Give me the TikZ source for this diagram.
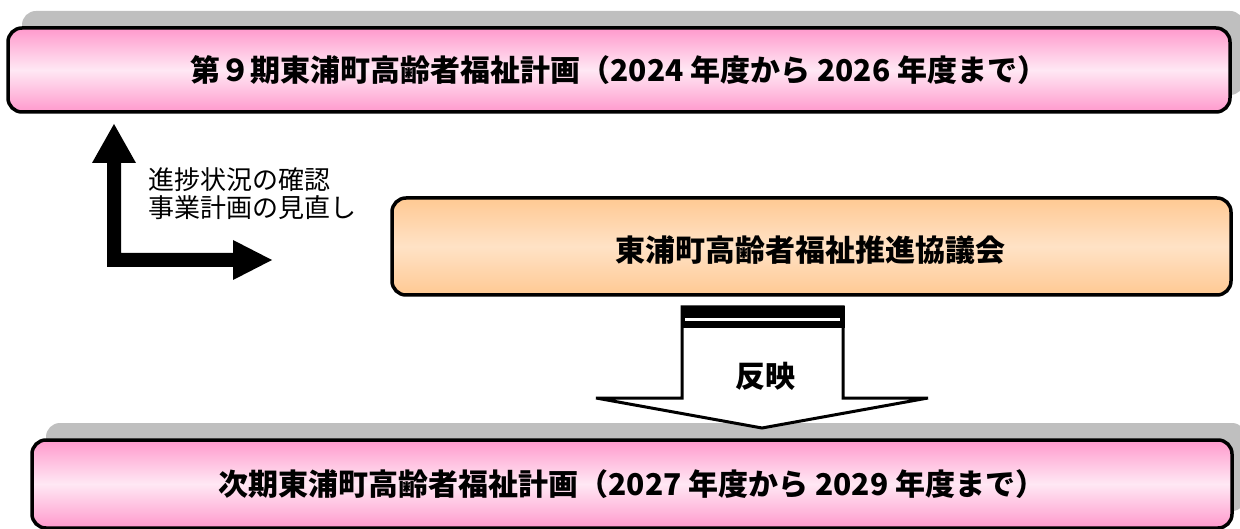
\documentclass[tikz,border=0pt]{standalone}
\usepackage{fontspec}
\newfontfamily\jp{Noto Sans CJK JP}
\usetikzlibrary{shadows}
\definecolor{pinkedge}{HTML}{FF99CC}
\definecolor{pinkmid}{HTML}{FFE8F4}
\definecolor{peachedge}{HTML}{FFC993}
\definecolor{peachmid}{HTML}{FFE2C6}
\definecolor{shadowgray}{HTML}{BFBFBF}
\tikzset{
  planbox/.style={draw=black, line width=3.5pt, rounded corners=14pt,
    top color=pinkedge, bottom color=pinkedge, middle color=pinkmid,
    font=\jp\bfseries\fontsize{30}{33}\selectfont, inner sep=0pt,
    drop shadow={shadow xshift=14pt, shadow yshift=17pt, opacity=1, fill=shadowgray}},
  councilbox/.style={draw=black, line width=3.5pt, rounded corners=14pt,
    top color=peachedge, bottom color=peachedge, middle color=peachmid,
    inner sep=0pt},
  boxtext/.style={font=\jp\bfseries\fontsize{30}{33}\selectfont, inner sep=0pt},
  notetext/.style={font=\jp\fontsize{26}{28}\selectfont, align=left, inner sep=0pt, anchor=west},
  reflect/.style={font=\jp\bfseries\fontsize{30}{33}\selectfont, inner sep=0pt}
}
\begin{document}
\begin{tikzpicture}[x=1pt,y=-1pt]
\useasboundingbox (0,0) rectangle (1240,529);
\clip (0,0) rectangle (1240,529);
% top plan
\node[planbox, minimum width=1222pt, minimum height=84pt] (plan9) at (619,70)
  {第９期東浦町高齢者福祉計画（2024 年度から 2026 年度まで）};
% council
\node[councilbox, minimum width=839pt, minimum height=97pt] (council) at (811.5,246.5) {};
\node[boxtext] (counciltext) at (810,250) {東浦町高齢者福祉推進協議会};
% bottom plan
\node[planbox, minimum width=1200pt, minimum height=88pt] (nextplan) at (632,484)
  {次期東浦町高齢者福祉計画（2027 年度から 2029 年度まで）};
% elbow arrow
\coordinate (elbow) at (114,260);
\fill[black] (107,267) -- (107,163) -- (92,163) -- (114,124) -- (136,163) -- (121,163)
  -- (121,253) -- (233,253) -- (233,240) -- (272,260) -- (233,280) -- (233,267) -- cycle;
\node[notetext] (note) at (148,194) {進捗状況の確認\\事業計画の見直し};
% block arrow down
\draw[line width=3pt, fill=white, line join=miter]
  (682,307) -- (843,307) -- (843,398) -- (928,398) -- (762,428) -- (596,398) -- (682,398) -- cycle;
\fill[black] (680.5,306) rectangle (844.5,328);
\fill[white] (685,318) rectangle (840,321.5);
\node[reflect] (refl) at (765,376) {反映};
\end{tikzpicture}
\end{document}
